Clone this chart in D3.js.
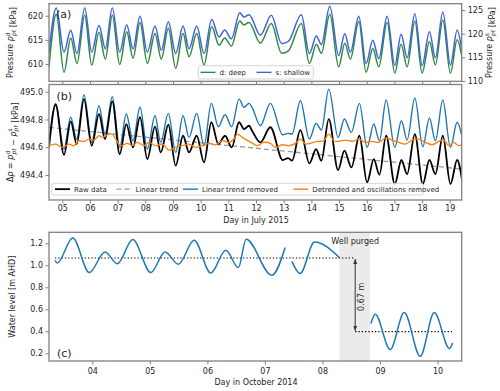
<!DOCTYPE html>
<html>
<head>
<meta charset="utf-8">
<script src="https://cdn.jsdelivr.net/npm/d3@7"></script>
<style>
  body { margin: 0; background: #fff; }
  svg { display: block; }
  text { font-family: "DejaVu Sans", sans-serif; }
</style>
</head>
<body>
<script>
// panel (a): pressures in the two wells, read at the turning points
const dayA = [4.519, 4.783, 5.061, 5.304, 5.530, 5.810, 6.063, 6.326, 6.555, 6.807,
  7.074, 7.327, 7.555, 7.808, 8.072, 8.350, 8.578, 8.831, 9.098, 9.362,
  9.579, 9.857, 10.121, 10.399, 10.663, 10.869, 11.108, 11.411, 11.567, 11.747,
  12.156, 12.553, 12.925, 13.170, 13.637, 13.927, 14.180, 14.360, 14.664, 14.985,
  15.206, 15.408, 15.712, 15.976, 16.218, 16.435, 16.735, 17.013, 17.241, 17.458,
  17.736, 18.000, 18.264, 18.480, 18.748, 19.023, 19.265, 19.446]
const deep = [609.4, 620.3, 608.3, 615.4, 610.1, 620.1, 609.8, 616.5, 611.0, 620.1,
  609.9, 616.7, 611.2, 618.6, 610.1, 616.3, 611.0, 617.4, 609.1, 616.3,
  611.5, 616.3, 609.8, 617.7, 613.9, 615.4, 613.7, 618.9, 618.1, 618.6,
  614.3, 618.4, 612.2, 612.7, 618.4, 610.1, 614.1, 612.2, 620.3, 609.4,
  614.3, 611.0, 618.8, 608.3, 613.2, 609.4, 618.6, 608.1, 614.1, 609.4,
  618.9, 608.1, 614.6, 609.8, 619.1, 608.1, 615.0, 611.2]
const shallow = [116.1, 125.4, 116.1, 120.7, 115.8, 125.4, 116.1, 121.8, 116.8, 125.4,
  116.1, 121.9, 116.8, 123.7, 116.1, 121.6, 116.5, 122.5, 115.8, 121.6,
  116.8, 121.6, 115.8, 123.0, 119.3, 120.8, 118.9, 124.4, 123.5, 124.0,
  119.7, 123.9, 117.9, 118.4, 124.0, 115.8, 119.5, 117.7, 125.8, 115.4,
  120.0, 116.1, 123.7, 113.7, 118.6, 114.7, 123.7, 113.3, 119.9, 114.9,
  124.2, 113.3, 120.4, 114.9, 124.6, 113.4, 120.7, 116.1]

// panel (b): pressure difference
const dayB = [4.519, 4.761, 5.061, 5.304, 5.520, 5.784, 6.063, 6.326, 6.543, 6.807,
  7.074, 7.313, 7.555, 7.808, 8.072, 8.350, 8.556, 8.831, 9.098, 9.362,
  9.579, 9.857, 10.121, 10.385, 10.638, 10.880, 11.122, 11.386, 11.567, 11.747,
  11.856, 12.156, 12.517, 12.965, 13.157, 13.302, 13.601, 13.927, 14.169, 14.360,
  14.628, 14.964, 15.192, 15.445, 15.734, 16.012, 16.254, 16.457, 16.699, 17.013,
  17.252, 17.458, 17.736, 18.025, 18.264, 18.480, 18.748, 19.023, 19.265, 19.446]
const rawDiff = [494.600, 494.906, 494.546, 494.787, 494.623, 494.947, 494.611, 494.839, 494.659, 494.931,
  494.551, 494.767, 494.599, 494.816, 494.515, 494.748, 494.563, 494.762, 494.467, 494.683,
  494.563, 494.683, 494.491, 494.780, 494.623, 494.683, 494.599, 494.780, 494.731, 494.755,
  494.719, 494.635, 494.744, 494.508, 494.522, 494.503, 494.724, 494.484, 494.587, 494.503,
  494.803, 494.436, 494.575, 494.455, 494.683, 494.347, 494.515, 494.402, 494.683, 494.335,
  494.508, 494.407, 494.695, 494.335, 494.508, 494.407, 494.683, 494.335, 494.508, 494.359]
const trendRemoved = [494.610, 494.916, 494.587, 494.816, 494.659, 494.978, 494.635, 494.899, 494.695, 494.964,
  494.599, 494.839, 494.647, 494.888, 494.587, 494.827, 494.635, 494.844, 494.563, 494.827,
  494.671, 494.844, 494.611, 494.916, 494.748, 494.834, 494.748, 494.947, 494.888, 494.916,
  494.888, 494.755, 494.916, 494.690, 494.700, 494.695, 494.935, 494.659, 494.772, 494.724,
  495.019, 494.671, 494.803, 494.707, 494.916, 494.599, 494.767, 494.647, 494.940, 494.599,
  494.791, 494.652, 494.955, 494.604, 494.811, 494.647, 494.940, 494.599, 494.780, 494.671]
const trendDays = [4.519, 19.446]
const trendVals = [494.743, 494.443]
const dayO = [4.519, 4.761, 5.000, 5.242, 5.423, 5.604, 5.784, 5.965, 6.146, 6.326,
  6.446, 6.626, 6.807, 6.930, 7.111, 7.349, 7.530, 7.711, 7.953, 8.133,
  8.376, 8.614, 8.856, 9.098, 9.337, 9.579, 9.821, 10.060, 10.302, 10.544,
  10.782, 11.025, 11.205, 11.325, 11.505, 11.747, 11.928, 12.037, 12.279, 12.517,
  12.698, 12.940, 13.182, 13.421, 13.601, 13.782, 13.963, 14.205, 14.447, 14.628,
  14.808, 14.989, 15.228, 15.470, 15.712, 15.950, 16.193, 16.435, 16.673, 16.915,
  17.158, 17.396, 17.638, 17.880, 18.119, 18.361, 18.603, 18.784, 18.964, 19.145,
  19.326, 19.446]
const detrended = [494.611, 494.623, 494.599, 494.623, 494.611, 494.647, 494.642, 494.659, 494.652, 494.683,
  494.671, 494.690, 494.695, 494.659, 494.611, 494.628, 494.611, 494.635, 494.611, 494.635,
  494.611, 494.623, 494.580, 494.599, 494.611, 494.623, 494.599, 494.611, 494.628, 494.618,
  494.647, 494.635, 494.659, 494.695, 494.671, 494.642, 494.623, 494.611, 494.635, 494.628,
  494.599, 494.618, 494.611, 494.628, 494.659, 494.623, 494.628, 494.642, 494.647, 494.695,
  494.647, 494.642, 494.652, 494.642, 494.659, 494.635, 494.642, 494.635, 494.666, 494.652,
  494.635, 494.623, 494.652, 494.659, 494.635, 494.618, 494.642, 494.652, 494.611, 494.635,
  494.611, 494.623]

// panel (c): water level, three logged stretches
const dayC1 = [3.351, 3.391, 3.659, 3.948, 4.221, 4.435, 4.703, 5.016, 5.264, 5.496,
  5.769, 6.059, 6.320, 6.539, 6.673, 7.120, 7.351]
const levelC1 = [1.045, 1.021, 1.248, 0.934, 1.121, 1.015, 1.234, 0.934, 1.121, 1.009,
  1.227, 0.930, 1.136, 0.979, 1.236, 0.909, 1.161]
const dayC2 = [7.468, 7.612, 7.861, 8.296]
const levelC2 = [1.036, 0.925, 1.212, 1.070]
const dayC3 = [8.842, 8.917, 9.177, 9.421, 9.699, 9.943, 10.209, 10.261]
const levelC3 = [0.470, 0.555, 0.234, 0.570, 0.173, 0.570, 0.243, 0.294]
const purge = [8.296, 8.83]
const purgeMid = 8.569
const levelBefore = 1.066
const levelAfter = 0.397
const meanSpanBefore = [3.351, purgeMid]
const meanSpanAfter = [purgeMid, 10.25]

const ticksJuly = d3.range(5, 20)
const ticksOct = d3.range(4, 11)

const W = 500, H = 391
const left = 49, right = 461.7
const pa = { top: 3.7, bottom: 81.3 }
const pb = { top: 84.5, bottom: 200 }
const pc = { top: 232.3, bottom: 361 }

const frameColor = '#808080'
const textColor = '#262626'

const svg = d3.select('body').append('svg').attr('width', W).attr('height', H)

const xJuly = d3.scaleLinear().domain([4.52, 19.43]).range([left, right])
const xOct = d3.scaleLinear().domain([3.247, 10.42]).range([left, right])
const yDeep = d3.scaleLinear().domain([606.4, 622.5]).range([pa.bottom, pa.top])
const yShallow = d3.scaleLinear().domain([109.94, 126.33]).range([pa.bottom, pa.top])
const yDiff = d3.scaleLinear().domain([494.22, 495.052]).range([pb.bottom, pb.top])
const yLevel = d3.scaleLinear().domain([0.13, 1.30]).range([pc.bottom, pc.top])

function styleAxis(g) {
  g.attr('font-family', null).attr('font-size', 8)
  g.select('.domain').remove()
  g.selectAll('.tick line').attr('stroke', frameColor)
  g.selectAll('.tick text').attr('fill', textColor)
}

function clip(id, p) {
  svg.append('clipPath').attr('id', id)
    .append('rect').attr('x', left).attr('y', p.top)
    .attr('width', right - left).attr('height', p.bottom - p.top)
}

function frame(p) {
  svg.append('rect').attr('x', left).attr('y', p.top)
    .attr('width', right - left).attr('height', p.bottom - p.top)
    .attr('fill', 'none').attr('stroke', frameColor).attr('stroke-width', 1.3)
}

function drawLine(g, xs, ys, sx, sy, color, width, curve) {
  const pts = xs.map((d, i) => [d, ys[i]])
  return g.append('path')
    .attr('d', d3.line().x(d => sx(d[0])).y(d => sy(d[1])).curve(curve || d3.curveMonotoneX)(pts))
    .attr('fill', 'none').attr('stroke', color).attr('stroke-width', width)
}

function legend(x, y, w, h, items) {
  const g = svg.append('g')
  g.append('rect').attr('x', x).attr('y', y).attr('width', w).attr('height', h)
    .attr('rx', 2).attr('fill', '#fff').attr('fill-opacity', 0.85)
    .attr('stroke', '#cccccc').attr('stroke-width', 0.8)
  const cy = y + h / 2
  items.forEach(it => {
    g.append('line').attr('x1', it.x).attr('x2', it.x + 15).attr('y1', cy).attr('y2', cy)
      .attr('stroke', it.color).attr('stroke-width', it.width || 1.4)
      .attr('stroke-dasharray', it.dash || null)
    g.append('text').attr('x', it.x + 19).attr('y', cy + 2.5)
      .attr('font-size', 7).attr('fill', textColor).text(it.label)
  })
}

// p with stacked super/subscript
function pSymbol(t, sup) {
  t.append('tspan').attr('font-style', 'italic').text('p')
  t.append('tspan').attr('font-size', 6).attr('dy', -3.5).text(sup)
  t.append('tspan').attr('font-size', 6).attr('font-style', 'italic')
    .attr('dx', sup === 'd' ? -3.7 : -3.1).attr('dy', 6).text('pt')
  t.append('tspan').attr('dy', -2.5).text('')
}

// ---------- panel (a) ----------
clip('clipA', pa)
const ga = svg.append('g').attr('clip-path', 'url(#clipA)')
drawLine(ga, dayA, deep, xJuly, yDeep, '#2e8b3e', 1.5)
drawLine(ga, dayA, shallow, xJuly, yShallow, '#3f63e0', 1.5)

svg.append('g').attr('transform', `translate(${left},0)`)
  .call(d3.axisLeft(yDeep).tickValues([610, 615, 620]).tickSize(3.5).tickPadding(2.5))
  .call(styleAxis)
svg.append('g').attr('transform', `translate(${right},0)`)
  .call(d3.axisRight(yShallow).tickValues([110, 115, 120, 125]).tickSize(3.5).tickPadding(2.5))
  .call(styleAxis)
svg.append('g').attr('transform', `translate(0,${pa.bottom})`)
  .call(d3.axisBottom(xJuly).tickValues(ticksJuly).tickSize(3.5).tickFormat(''))
  .call(styleAxis)
frame(pa)

const ta = svg.append('text').attr('transform', `translate(13,${(pa.top + pa.bottom) / 2}) rotate(-90)`)
  .attr('text-anchor', 'middle').attr('font-size', 8).attr('fill', textColor)
ta.append('tspan').text('Pressure ')
pSymbol(ta, 'd')
ta.append('tspan').text(' [kPa]')

const tb = svg.append('text').attr('transform', `translate(492,${(pa.top + pa.bottom) / 2}) rotate(-90)`)
  .attr('text-anchor', 'middle').attr('font-size', 8).attr('fill', textColor)
tb.append('tspan').text('Pressure ')
pSymbol(tb, 's')
tb.append('tspan').text(' [kPa]')

svg.append('text').attr('x', 56).attr('y', 18.3).attr('font-size', 11).attr('fill', textColor).text('(a)')
legend(198.3, 65.7, 115, 13.3, [
  { x: 200.5, color: '#2e8b3e', label: 'd: deep' },
  { x: 256.5, color: '#3f63e0', label: 's: shallow' }
])

// ---------- panel (b) ----------
clip('clipB', pb)
const gb = svg.append('g').attr('clip-path', 'url(#clipB)')
drawLine(gb, trendDays, trendVals, xJuly, yDiff, '#999999', 1.3, d3.curveLinear).attr('stroke-dasharray', '5,3')
drawLine(gb, dayB, trendRemoved, xJuly, yDiff, '#1f77b4', 1.4)
drawLine(gb, dayB, rawDiff, xJuly, yDiff, '#000000', 1.8)
drawLine(gb, dayO, detrended, xJuly, yDiff, '#ff7f0e', 1.3, d3.curveCatmullRom)

svg.append('g').attr('transform', `translate(${left},0)`)
  .call(d3.axisLeft(yDiff).tickValues([494.4, 494.6, 494.8, 495.0]).tickFormat(d3.format('.1f')).tickSize(3.5).tickPadding(2.5))
  .call(styleAxis)
svg.append('g').attr('transform', `translate(0,${pb.bottom})`)
  .call(d3.axisBottom(xJuly).tickValues(ticksJuly).tickFormat(d3.format('02d')).tickSize(3.5).tickPadding(2))
  .call(styleAxis)
frame(pb)

const tc = svg.append('text').attr('transform', `translate(13,${(pb.top + pb.bottom) / 2}) rotate(-90)`)
  .attr('text-anchor', 'middle').attr('font-size', 8).attr('fill', textColor)
tc.append('tspan').text('Δ')
tc.append('tspan').attr('font-style', 'italic').text('p')
tc.append('tspan').text(' = ')
pSymbol(tc, 'd')
tc.append('tspan').text(' − ')
pSymbol(tc, 's')
tc.append('tspan').text(' [kPa]')

svg.append('text').attr('x', 256).attr('y', 223).attr('text-anchor', 'middle')
  .attr('font-size', 8).attr('fill', textColor).text('Day in July 2015')
svg.append('text').attr('x', 56.5).attr('y', 100).attr('font-size', 11).attr('fill', textColor).text('(b)')
legend(51.7, 183.3, 371.6, 11.7, [
  { x: 55, color: '#000000', label: 'Raw data', width: 1.8 },
  { x: 116.5, color: '#999999', label: 'Linear trend', dash: '5,3' },
  { x: 183, color: '#1f77b4', label: 'Linear trend removed' },
  { x: 293.3, color: '#ff7f0e', label: 'Detrended and oscillations removed' }
])

// ---------- panel (c) ----------
svg.append('rect').attr('x', xOct(purge[0])).attr('y', pc.top)
  .attr('width', xOct(purge[1]) - xOct(purge[0])).attr('height', pc.bottom - pc.top)
  .attr('fill', '#ebebeb')

clip('clipC', pc)
const gc = svg.append('g').attr('clip-path', 'url(#clipC)')
drawLine(gc, meanSpanBefore, [levelBefore, levelBefore], xOct, yLevel, '#000', 1.1, d3.curveLinear).attr('stroke-dasharray', '1.3,2')
drawLine(gc, meanSpanAfter, [levelAfter, levelAfter], xOct, yLevel, '#000', 1.1, d3.curveLinear).attr('stroke-dasharray', '1.3,2')
drawLine(gc, dayC1, levelC1, xOct, yLevel, '#1f77b4', 1.5)
drawLine(gc, dayC2, levelC2, xOct, yLevel, '#1f77b4', 1.5)
drawLine(gc, dayC3, levelC3, xOct, yLevel, '#1f77b4', 1.5)

// double arrow showing the drop
const defs = svg.append('defs')
defs.append('marker').attr('id', 'head').attr('viewBox', '0 0 10 10')
  .attr('refX', 10).attr('refY', 5).attr('markerWidth', 5).attr('markerHeight', 5)
  .attr('orient', 'auto-start-reverse')
  .append('path').attr('d', 'M0,1 L10,5 L0,9 z').attr('fill', '#333')
svg.append('line')
  .attr('x1', xOct(purgeMid)).attr('x2', xOct(purgeMid))
  .attr('y1', yLevel(levelBefore) + 1).attr('y2', yLevel(levelAfter) - 1)
  .attr('stroke', '#333').attr('stroke-width', 1)
  .attr('marker-start', 'url(#head)').attr('marker-end', 'url(#head)')
svg.append('text')
  .attr('transform', `translate(${xOct(purgeMid) + 9},${yLevel((levelBefore + levelAfter) / 2) + 2}) rotate(-90)`)
  .attr('text-anchor', 'middle').attr('font-size', 8).attr('fill', textColor)
  .text(`${d3.format('.2f')(levelBefore - levelAfter)} m`)
svg.append('text').attr('x', xOct(purgeMid)).attr('y', 243.5).attr('text-anchor', 'middle')
  .attr('font-size', 8).attr('fill', textColor).text('Well purged')

svg.append('g').attr('transform', `translate(${left},0)`)
  .call(d3.axisLeft(yLevel).tickValues([0.2, 0.4, 0.6, 0.8, 1.0, 1.2]).tickFormat(d3.format('.1f')).tickSize(3.5).tickPadding(2.5))
  .call(styleAxis)
svg.append('g').attr('transform', `translate(0,${pc.bottom})`)
  .call(d3.axisBottom(xOct).tickValues(ticksOct).tickFormat(d3.format('02d')).tickSize(3.5).tickPadding(3.5))
  .call(styleAxis)
frame(pc)

svg.append('text').attr('transform', `translate(14.5,${(pc.top + pc.bottom) / 2}) rotate(-90)`)
  .attr('text-anchor', 'middle').attr('font-size', 8).attr('fill', textColor)
  .text('Water level [m AHD]')
svg.append('text').attr('x', 256).attr('y', 384.5).attr('text-anchor', 'middle')
  .attr('font-size', 8).attr('fill', textColor).text('Day in October 2014')
svg.append('text').attr('x', 57).attr('y', 356.7).attr('font-size', 11).attr('fill', textColor).text('(c)')
</script>
</body>
</html>
